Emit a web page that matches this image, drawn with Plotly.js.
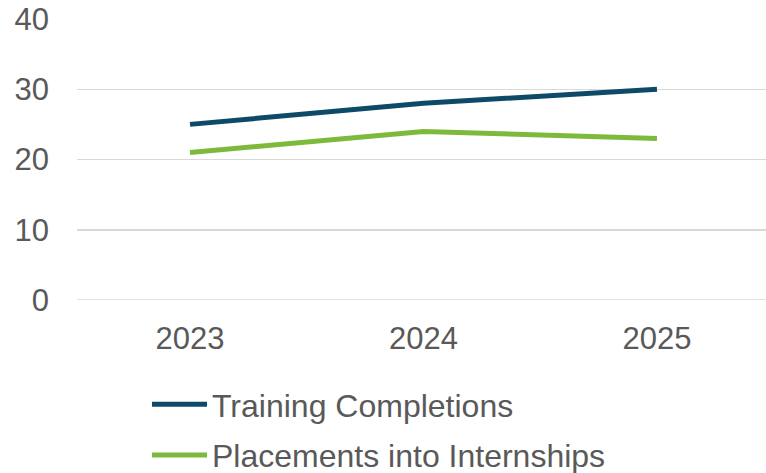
<!DOCTYPE html>
<html>
<head>
<meta charset="utf-8">
<script src="https://cdn.plot.ly/plotly-3.0.1.min.js"></script>
<style>html,body{margin:0;padding:0;background:#fff;}#chart{width:766px;height:473px;}</style>
</head>
<body>
<div id="chart"></div>
<script>
const years = ["2023", "2024", "2025"];
const trainingCompletions = [25, 28, 30];
const placementsIntoInternships = [21, 24, 23];
const seriesNames = ["Training Completions", "Placements into Internships"];
const yTicks = [0, 10, 20, 30, 40];

const font = {family: "Liberation Sans, Arial, sans-serif", size: 31, color: "#595959"};
const legendFont = {family: "Liberation Sans, Arial, sans-serif", size: 32, color: "#595959"};

const traces = [
  {x: years, y: trainingCompletions, name: seriesNames[0], type: "scatter", mode: "lines",
   line: {color: "#0D4A68", width: 5}, legendgroup: "a"},
  {x: years, y: placementsIntoInternships, name: seriesNames[1], type: "scatter", mode: "lines",
   line: {color: "#7DBA3B", width: 5}, legendgroup: "b"}
];

const L = 77, T = 19, B = 173, W = 766, H = 473;
const pw = W - L, ph = H - T - B;

const layout = {
  width: W, height: H,
  margin: {l: L, r: 0, t: T, b: B, autoexpand: false},
  paper_bgcolor: "#fff", plot_bgcolor: "#fff",
  font: font,
  showlegend: true,
  legend: {x: (147 - L) / pw, y: (H - B - 377) / ph, itemwidth: 55,
           xanchor: "left", yanchor: "top", font: legendFont, traceorder: "grouped",
           tracegroupgap: 6, bgcolor: "rgba(0,0,0,0)"},
  xaxis: {type: "category", range: [-0.484, 2.467], showgrid: false, zeroline: false, automargin: false,
          showline: false, ticks: "", tickfont: font, ticklabelstandoff: 17, fixedrange: true},
  yaxis: {range: [0, 40], tickvals: yTicks, showgrid: true, gridcolor: "#D9D9D9", gridwidth: 1.5,
          zeroline: false, showline: false, ticks: "", tickfont: font, ticklabelstandoff: 27,
          automargin: false, fixedrange: true},
  shapes: [{type: "line", xref: "paper", yref: "y", x0: 0, x1: 1, y0: 0, y1: 0,
            line: {color: "#D9D9D9", width: 1.5}, layer: "below"}]
};

Plotly.newPlot("chart", traces, layout, {staticPlot: true, displayModeBar: false});
</script>
</body>
</html>
